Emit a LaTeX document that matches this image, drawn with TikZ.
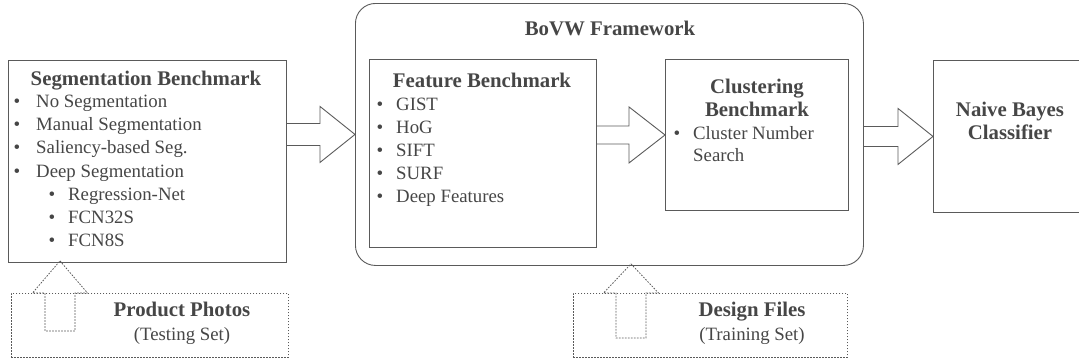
\documentclass[tikz,border=0pt]{standalone}
\usepackage{fontspec}
\setmainfont{Liberation Serif}
\usetikzlibrary{calc}
\definecolor{txt}{HTML}{464646}
\definecolor{ln}{HTML}{5A5A5A}
\begin{document}
\begin{tikzpicture}[x=1pt,y=-1pt,
  every node/.style={text=txt, font=\fontsize{18.8}{23}\selectfont, inner sep=0pt},
  box/.style={draw=ln, line width=0.9pt},
  dbox/.style={draw=ln, line width=0.8pt, dash pattern=on 1.6pt off 1.4pt},
  blk/.style={draw=ln, line width=0.9pt, line join=miter},
  ttl/.style={font=\fontsize{20.8}{23}\selectfont\bfseries},
  itm/.style={anchor=mid west},
  bul/.style={anchor=mid, font=\fontsize{19}{20}\selectfont}]
\useasboundingbox (0,0) rectangle (1079,362);
% boxes
\node[box, minimum width=278, minimum height=202, anchor=north west] (seg) at (8,60) {};
\node[box, rounded corners=20, minimum width=508, minimum height=262, anchor=north west] (bovw) at (355,3) {};
\node[box, minimum width=227, minimum height=188, anchor=north west] (feat) at (369,59) {};
\node[box, minimum width=183, minimum height=151, anchor=north west] (clus) at (665,59) {};
\node[box, minimum width=170, minimum height=152, anchor=north west] (nb) at (933,60) {};
\node[dbox, minimum width=277, minimum height=64, anchor=north west] (prod) at (11,293) {};
\node[dbox, minimum width=274, minimum height=64, anchor=north west] (des) at (573,293) {};

% segmentation text
\node[ttl, anchor=mid] (segt) at (146,83) {Segmentation Benchmark};
\foreach \t/\y [count=\i] in {No Segmentation/105, Manual Segmentation/128, Saliency-based Seg./151, Deep Segmentation/175}{
  \node[bul] (sb\i) at (17,\y) {\textbullet};
  \node[itm] (si\i) at (36,\y) {\t};
}
\foreach \t/\y [count=\i] in {Regression-Net/198, FCN32S/221, FCN8S/244}{
  \node[bul] (ssb\i) at (52,\y) {\textbullet};
  \node[itm] (ssi\i) at (68,\y) {\t};
}

% BoVW
\node[ttl, anchor=mid] (bovwt) at (610,33) {BoVW Framework};
\node[ttl, anchor=mid] (featt) at (482,85) {Feature Benchmark};
\foreach \t/\y [count=\i] in {GIST/108, HoG/131, SIFT/154, SURF/177, Deep Features/200}{
  \node[bul] (fb\i) at (380,\y) {\textbullet};
  \node[itm] (fi\i) at (396,\y) {\t};
}
\node[ttl, anchor=mid] (clust1) at (757,91) {Clustering};
\node[ttl, anchor=mid] (clust2) at (757,114) {Benchmark};
\node[bul] (cb1) at (677,137) {\textbullet};
\node[itm] (ci1) at (693,137) {Cluster Number};
\node[itm] (ci2) at (693,159) {Search};

\node[ttl, anchor=mid] (nbt1) at (1010,114) {Naive Bayes};
\node[ttl, anchor=mid] (nbt2) at (1010,137) {Classifier};

% input boxes text
\node[ttl, anchor=mid] (prodt1) at (182,314) {Product Photos};
\node[anchor=mid] (prodt2) at (182,338) {(Testing Set)};
\node[ttl, anchor=mid] (dest1) at (752,314) {Design Files};
\node[anchor=mid] (dest2) at (752,338) {(Training Set)};

% block arrows
\draw[blk] let \p1=(seg.east |- bovw.west), \p2=(bovw.west) in
  (\x1,\y1+11) -- (\x2-35,\y1+11) -- (\x2-35,\y1+28) -- (\x2,\y1) -- (\x2-35,\y1-28) -- (\x2-35,\y1-11) -- (\x1,\y1-11);
\draw[blk] let \p1=(feat.east |- clus.west), \p2=(clus.west) in
  (\x1,\y1+9) -- (\x2-36,\y1+9) -- (\x2-36,\y1+28) -- (\x2,\y1) -- (\x2-36,\y1-28) -- (\x2-36,\y1-9) -- (\x1,\y1-9);
\draw[blk] let \p1=(bovw.east |- nb.west), \p2=(nb.west) in
  (\x1,\y1+10) -- (\x2-35,\y1+10) -- (\x2-35,\y1+28) -- (\x2,\y1) -- (\x2-35,\y1-28) -- (\x2-35,\y1-10) -- (\x1,\y1-10);

% dashed up arrows
\coordinate (pt) at ($(seg.south west)+(52,-2)$);
\coordinate (dt) at ($(bovw.south west)+(276,-2)$);
\draw[dbox] let \p1=(pt), \p2=(prod.north) in
  (\x1,\y1) -- (\x1+27.5,\y2) -- (\x1+15,\y2) -- (\x1+15,\y2-38) -- (\x1-15,\y2-38) -- (\x1-15,\y2) -- (\x1-27.5,\y2) -- cycle;
\draw[dbox] let \p1=(dt), \p2=(des.north) in
  (\x1,\y1) -- (\x1+27.5,\y2) -- (\x1+15,\y2) -- (\x1+15,\y2-45) -- (\x1-15,\y2-45) -- (\x1-15,\y2) -- (\x1-27.5,\y2) -- cycle;
\end{tikzpicture}
\end{document}
